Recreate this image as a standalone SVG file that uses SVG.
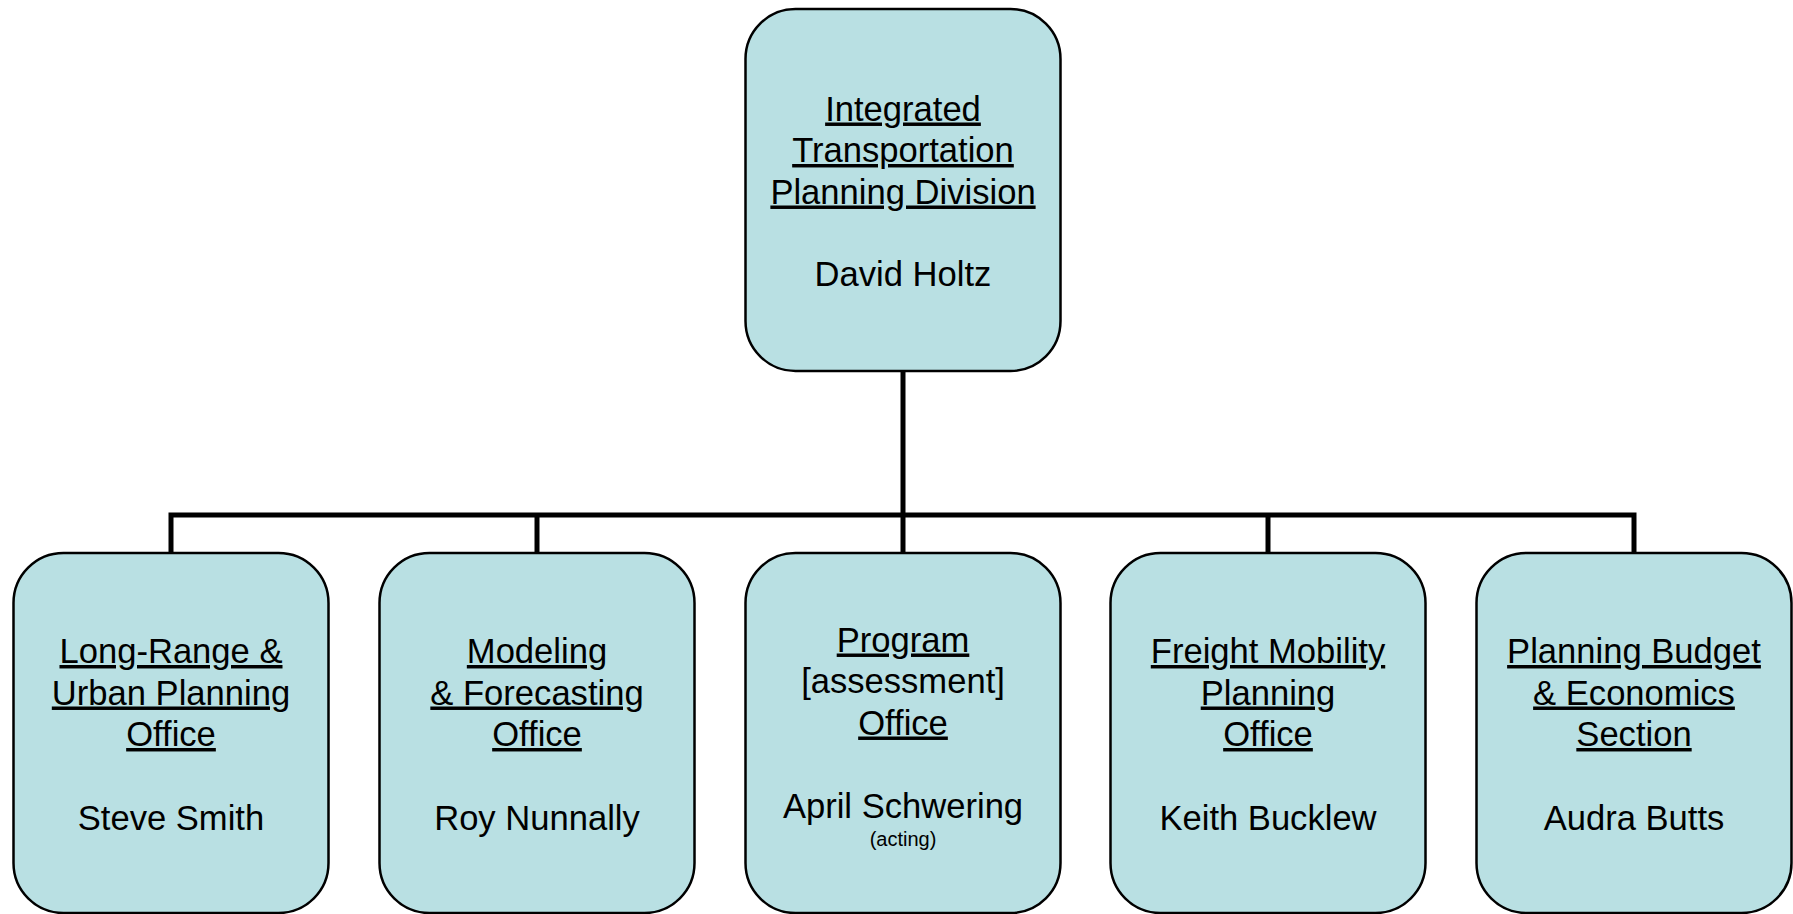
<svg xmlns="http://www.w3.org/2000/svg" width="1793" height="914" viewBox="0 0 1793 914">
<style>
.box{fill:#B9E0E3;stroke:#000;stroke-width:2.5}
.conn{fill:none;stroke:#000;stroke-width:5;stroke-linecap:butt;stroke-linejoin:miter}
text{font-family:"Liberation Sans",Arial,sans-serif;font-size:34.6px;fill:#000;text-anchor:middle}
.u{text-decoration:underline}
.small{font-size:20px}
</style>
<rect width="1793" height="914" fill="#fff"/>
<g id="connectors">
<path class="conn" d="M903 371 V515"/>
<path class="conn" d="M171 553 V515 H1634 V553"/>
<path class="conn" d="M537 515 V553"/>
<path class="conn" d="M903 515 V553"/>
<path class="conn" d="M1268 515 V553"/>
</g>
<g id="division">
<rect class="box" x="745.5" y="9" width="315" height="362" rx="50" ry="50"/>
<text x="903" y="120.5" class="u">Integrated</text>
<text x="903" y="162" class="u">Transportation</text>
<text x="903" y="203.5" class="u">Planning Division</text>
<text x="903" y="286">David Holtz</text>
</g>
<g id="longrange">
<rect class="box" x="13.5" y="553" width="315" height="360" rx="50" ry="50"/>
<text x="171" y="663" class="u">Long-Range &amp;</text>
<text x="171" y="704.5" class="u">Urban Planning</text>
<text x="171" y="746" class="u">Office</text>
<text x="171" y="830">Steve Smith</text>
</g>
<g id="modeling">
<rect class="box" x="379.5" y="553" width="315" height="360" rx="50" ry="50"/>
<text x="537" y="663" class="u">Modeling</text>
<text x="537" y="704.5" class="u">&amp; Forecasting</text>
<text x="537" y="746" class="u">Office</text>
<text x="537" y="830">Roy Nunnally</text>
</g>
<g id="program">
<rect class="box" x="745.5" y="553" width="315" height="360" rx="50" ry="50"/>
<text x="903" y="651.5" class="u">Program</text>
<text x="903" y="693">[assessment]</text>
<text x="903" y="734.5" class="u">Office</text>
<text x="903" y="817.5">April Schwering</text>
<text x="903" y="846" class="small">(acting)</text>
</g>
<g id="freight">
<rect class="box" x="1110.5" y="553" width="315" height="360" rx="50" ry="50"/>
<text x="1268" y="663" class="u">Freight Mobility</text>
<text x="1268" y="704.5" class="u">Planning</text>
<text x="1268" y="746" class="u">Office</text>
<text x="1268" y="830">Keith Bucklew</text>
</g>
<g id="budget">
<rect class="box" x="1476.5" y="553" width="315" height="360" rx="50" ry="50"/>
<text x="1634" y="663" class="u">Planning Budget</text>
<text x="1634" y="704.5" class="u">&amp; Economics</text>
<text x="1634" y="746" class="u">Section</text>
<text x="1634" y="830">Audra Butts</text>
</g>
</svg>
